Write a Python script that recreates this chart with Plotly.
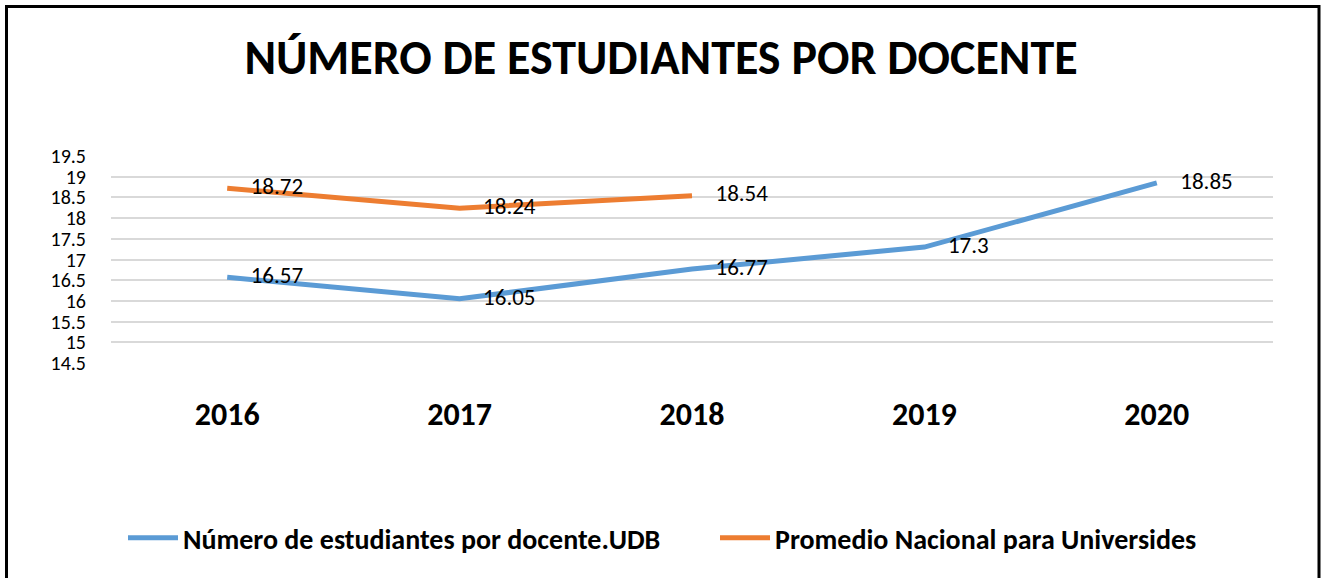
import plotly.graph_objects as go

years = ["2016", "2017", "2018", "2019", "2020"]
udb_values = [16.57, 16.05, 16.77, 17.3, 18.85]
nacional_years = ["2016", "2017", "2018"]
nacional_values = [18.72, 18.24, 18.54]
y_ticks = [14.5, 15, 15.5, 16, 16.5, 17, 17.5, 18, 18.5, 19, 19.5]

series_names = ["Número de estudiantes por docente.UDB", "Promedio Nacional para Universides"]
title_text = "NÚMERO DE ESTUDIANTES POR DOCENTE"

FONT = "Carlito, Lato, sans-serif"
W, H = 1322, 578
L, R, T, B = 111, 49, 156, 215
pw, ph = W - L - R, H - T - B


def fmt(v):
    return ("%g" % v)


fig = go.Figure()
for i, (name, xs, ys, col) in enumerate([
    (series_names[0], years, udb_values, "#5B9BD5"),
    (series_names[1], nacional_years, nacional_values, "#ED7D31"),
]):
    fig.add_trace(go.Scatter(
        x=xs, y=ys, name=name,
        mode="lines+markers+text",
        line=dict(color=col, width=5),
        marker=dict(size=36, color="rgba(0,0,0,0)"),
        text=[fmt(v) for v in ys],
        textposition="middle right",
        textfont=dict(family=FONT, size=23, color="#000000"),
        hoverinfo="x+y",
        legend="legend" if i == 0 else "legend2",
    ))

legend_font = dict(family=FONT, size=28, color="#000000", weight="bold")
legend_y = (363 - 538) / ph

fig.update_layout(
    width=W, height=H,
    margin=dict(l=L, r=R, t=T, b=B, pad=0),
    paper_bgcolor="white", plot_bgcolor="white",
    title=dict(
        text="<b>" + title_text + "</b>",
        x=0.5, xanchor="center", xref="container",
        y=1 - 57 / H, yanchor="middle", yref="container",
        font=dict(family=FONT, size=48, color="#000000"),
    ),
    xaxis=dict(
        type="category", range=[-0.5, 4.5],
        showgrid=False, zeroline=False, showline=False,
        tickfont=dict(family=FONT, size=32, color="#000000", weight="bold"),
        ticks="", ticklabelstandoff=29,
    ),
    yaxis=dict(
        range=[14.5, 19.5], tickvals=y_ticks,
        ticktext=[fmt(v) for v in y_ticks],
        showgrid=True, gridcolor="#D9D9D9", gridwidth=2,
        zeroline=False, showline=False,
        tickfont=dict(family=FONT, size=20, color="#000000"),
        ticks="", ticklabelstandoff=24,
    ),
    legend=dict(
        orientation="h", x=(123 - L) / pw, xanchor="left",
        y=legend_y, yanchor="middle", font=legend_font, itemwidth=50,
    ),
    legend2=dict(
        orientation="h", x=(715 - L) / pw, xanchor="left",
        y=legend_y, yanchor="middle", font=legend_font, itemwidth=50,
    ),
    showlegend=True,
    shapes=[dict(
        type="rect", xref="paper", yref="paper",
        x0=(6.5 - L) / pw, x1=(1319 - L) / pw,
        y0=(363 - 640) / ph, y1=(363 - 6.5) / ph,
        line=dict(color="#000000", width=3), layer="above",
    )],
)

fig.write_html(
    "out.html",
    config={"displayModeBar": False},
    post_script="document.body.style.margin='0';document.body.style.overflow='hidden';",
)
